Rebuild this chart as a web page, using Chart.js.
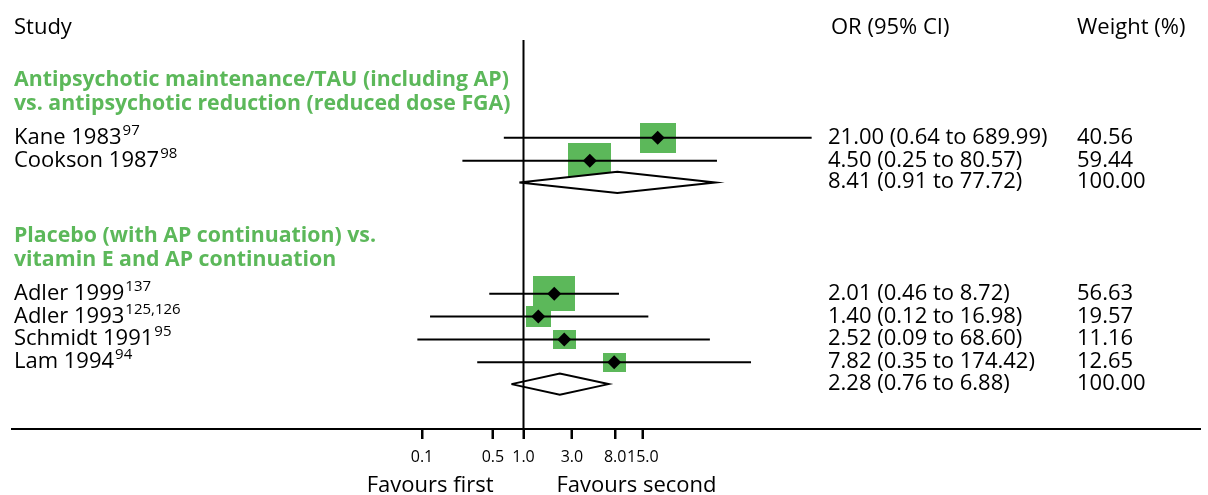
<!DOCTYPE html>
<html>
<head>
<meta charset="utf-8">
<script src="https://cdn.jsdelivr.net/npm/chart.js@4.4.1/dist/chart.umd.min.js"></script>
<style>
  html, body { margin: 0; padding: 0; background: #fff; }
</style>
</head>
<body>
<canvas id="forest" width="1208" height="495"></canvas>
<script>
// values
const groupTitles = [
  ['Antipsychotic maintenance/TAU (including AP)', 'vs. antipsychotic reduction (reduced dose FGA)'],
  ['Placebo (with AP continuation) vs.', 'vitamin E and AP continuation']
];
const studyNames = [['Kane 1983', 'Cookson 1987'], ['Adler 1999', 'Adler 1993', 'Schmidt 1991', 'Lam 1994']];
const studyRefs = [['97', '98'], ['137', '125,126', '95', '94']];
const oddsRatios = [[21.00, 4.50], [2.01, 1.40, 2.52, 7.82]];
const ciLower = [[0.64, 0.25], [0.46, 0.12, 0.09, 0.35]];
const ciUpper = [[689.99, 80.57], [8.72, 16.98, 68.60, 174.42]];
const weights = [[40.56, 59.44], [56.63, 19.57, 11.16, 12.65]];
const pooledOR = [8.41, 2.28];
const pooledLower = [0.91, 0.76];
const pooledUpper = [77.72, 6.88];
const tickValues = [0.1, 0.5, 1, 3, 8, 15];
const tickLabels = ['0.1', '0.5', '1.0', '3.0', '8.0', '15.0'];

const GREEN = '#5cb85a';
const FONT = '"Open Sans", "Noto Sans", sans-serif';

// row layout (in row units, 1 row = one study line)
const layout = [];
let r = -2.56;
studyNames.forEach((names, g) => {
  const grp = { titleRows: [r, r + 1.04], studyRows: [], pooledRow: 0 };
  names.forEach((_, i) => grp.studyRows.push(r + 2.56 + i));
  grp.pooledRow = grp.studyRows[grp.studyRows.length - 1] + 0.95;
  layout.push(grp);
  r = grp.pooledRow + 2.3;
});
const yMin = -4.27, yMax = 12.72;

// x scale: 1.0 at 523.5px, one decade = 101.5px, plot area 12..1200
const xMin = Math.pow(10, (12 - 523.5) / 101.5);
const xMax = Math.pow(10, (1200 - 523.5) / 101.5);

function boxImage(w) {
  const bw = Math.round(Math.max(23, 5.6 * Math.sqrt(w)));
  const bh = Math.round(bw * 0.84);
  const c = document.createElement('canvas');
  c.width = bw; c.height = bh;
  const cx = c.getContext('2d');
  cx.fillStyle = GREEN;
  cx.fillRect(0, 0, bw, bh);
  return c;
}

const datasets = [];

// line of no effect
datasets.push({
  type: 'scatter', showLine: true, order: -1,
  data: [{ x: 1, y: yMin }, { x: 1, y: yMax }],
  borderColor: '#000', borderWidth: 2, pointRadius: 0
});

const boxPts = [], boxStyles = [], markPts = [];
studyNames.forEach((names, g) => {
  names.forEach((_, i) => {
    const row = layout[g].studyRows[i];
    datasets.push({
      type: 'scatter', showLine: true, order: 3,
      data: [{ x: ciLower[g][i], y: row }, { x: ciUpper[g][i], y: row }],
      borderColor: '#000', borderWidth: 2, pointRadius: 0
    });
    boxPts.push({ x: oddsRatios[g][i], y: row });
    boxStyles.push(boxImage(weights[g][i]));
    markPts.push({ x: oddsRatios[g][i], y: row });
  });
  const pr = layout[g].pooledRow;
  datasets.push({
    type: 'scatter', showLine: true, order: 0, fill: 'shape',
    backgroundColor: '#fff', borderColor: '#000', borderWidth: 2, pointRadius: 0,
    lineTension: 0,
    data: [
      { x: pooledLower[g], y: pr }, { x: pooledOR[g], y: pr - 0.46 },
      { x: pooledUpper[g], y: pr }, { x: pooledOR[g], y: pr + 0.46 },
      { x: pooledLower[g], y: pr }
    ]
  });
});

datasets.push({
  type: 'scatter', order: 4, data: boxPts,
  pointStyle: boxStyles, pointRadius: 20, pointHoverRadius: 20
});
datasets.push({
  type: 'scatter', order: 1, data: markPts,
  pointStyle: 'rectRot', pointRadius: 7, backgroundColor: '#000', borderColor: '#000', borderWidth: 0
});

function drawLabel(ctx, text, sup, x, y) {
  ctx.font = '22px ' + FONT;
  ctx.fillText(text, x, y);
  const w = ctx.measureText(text).width;
  ctx.font = '15px ' + FONT;
  ctx.fillText(sup, x + w + 1, y - 9);
}

const textPlugin = {
  id: 'forestText',
  afterDraw(chart) {
    const ctx = chart.ctx;
    const ys = chart.scales.y, xs = chart.scales.x;
    const colOR = 828, colW = 1077;
    ctx.save();

    // tick marks under the axis
    ctx.strokeStyle = '#000';
    ctx.lineWidth = 2;
    tickValues.forEach(v => {
      const px = Math.round(xs.getPixelForValue(v));
      ctx.beginPath();
      ctx.moveTo(px, chart.chartArea.bottom);
      ctx.lineTo(px, chart.chartArea.bottom + 10);
      ctx.stroke();
    });

    ctx.textBaseline = 'alphabetic';
    ctx.textAlign = 'left';
    ctx.fillStyle = '#000';
    ctx.font = '22px ' + FONT;
    ctx.fillText('Study', 14, 34);
    ctx.fillText('OR (95% CI)', 831, 34);
    ctx.fillText('Weight (%)', colW, 34);

    studyNames.forEach((names, g) => {
      const grp = layout[g];
      ctx.fillStyle = GREEN;
      ctx.font = 'bold 21.3px ' + FONT;
      groupTitles[g].forEach((t, k) => ctx.fillText(t, 14, ys.getPixelForValue(grp.titleRows[k]) + 7));
      ctx.fillStyle = '#000';
      names.forEach((n, i) => {
        const y = ys.getPixelForValue(grp.studyRows[i]) + 6;
        drawLabel(ctx, n, studyRefs[g][i], 14, y);
        ctx.font = '22px ' + FONT;
        ctx.fillText(oddsRatios[g][i].toFixed(2) + ' (' + ciLower[g][i].toFixed(2) + ' to ' + ciUpper[g][i].toFixed(2) + ')', colOR, y);
        ctx.fillText(weights[g][i].toFixed(2), colW, y);
      });
      const py = ys.getPixelForValue(grp.pooledRow) + 6;
      ctx.font = '22px ' + FONT;
      ctx.fillText(pooledOR[g].toFixed(2) + ' (' + pooledLower[g].toFixed(2) + ' to ' + pooledUpper[g].toFixed(2) + ')', colOR, py);
      ctx.fillText((100).toFixed(2), colW, py);
    });

    const x1 = xs.getPixelForValue(1);
    ctx.textAlign = 'right';
    ctx.fillText('Favours first', x1 - 30, 492);
    ctx.textAlign = 'left';
    ctx.fillText('Favours second', x1 + 33, 492);
    ctx.restore();
  }
};

new Chart(document.getElementById('forest'), {
  type: 'scatter',
  data: { datasets },
  plugins: [textPlugin],
  options: {
    responsive: false,
    animation: false,
    devicePixelRatio: 1,
    layout: { autoPadding: false, padding: { left: 12, right: 8, top: 40, bottom: 0 } },
    plugins: { legend: { display: false }, tooltip: { enabled: false } },
    scales: {
      x: {
        type: 'logarithmic',
        min: xMin,
        max: xMax,
        afterBuildTicks: (scale) => { scale.ticks = tickValues.map(v => ({ value: v })); },
        afterFit: (scale) => { scale.height = 66; },
        grid: { display: true, drawOnChartArea: false, drawTicks: true, tickLength: 10, tickWidth: 2, tickColor: '#000', color: '#000' },
        border: { display: true, color: '#000', width: 2 },
        ticks: {
          autoSkip: false, maxRotation: 0, padding: 9, color: '#000',
          font: { family: FONT, size: 16 },
          callback: (v, i) => tickLabels[i]
        }
      },
      y: {
        type: 'linear', display: false, reverse: true, min: yMin, max: yMax
      }
    }
  }
});
</script>
</body>
</html>
